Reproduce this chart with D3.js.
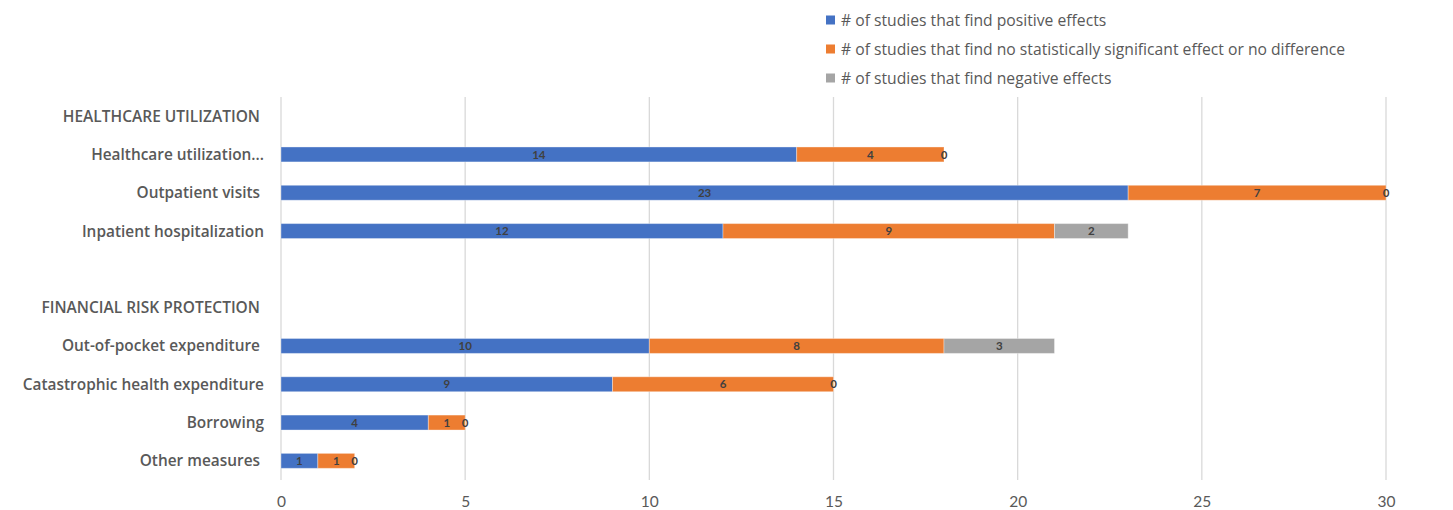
<!DOCTYPE html>
<html>
<head>
<meta charset="utf-8">
<script src="https://cdn.jsdelivr.net/npm/d3@7"></script>
<style>
  body { margin: 0; background: #fff; }
  svg { font-family: "Open Sans", Lato, sans-serif; }
</style>
</head>
<body>
<div id="chart"></div>
<script>
// rows, top to bottom (header rows and a blank spacer have no bars)
const rows = [
  'HEALTHCARE UTILIZATION',
  'Healthcare utilization...',
  'Outpatient visits ',
  'Inpatient hospitalization',
  '',
  'FINANCIAL RISK PROTECTION',
  'Out-of-pocket expenditure ',
  'Catastrophic health expenditure',
  'Borrowing',
  'Other measures '
];
const headerRows = ['HEALTHCARE UTILIZATION', 'FINANCIAL RISK PROTECTION'];

const seriesNames = [
  '# of studies that find positive effects',
  '# of studies that find no statistically significant effect or no difference',
  '# of studies that find negative effects'
];
const seriesColors = ['#4472c4', '#ed7d31', '#a5a5a5'];

// null = no bar on this row
const positive = [null, 14, 23, 12, null, null, 10, 9, 4, 1];
const noEffect = [null, 4, 7, 9, null, null, 8, 6, 1, 1];
const negative = [null, 0, 0, 2, null, null, 3, 0, 0, 0];

const xTicks = [0, 5, 10, 15, 20, 25, 30];

const width = 1453, height = 510;
const margin = { left: 281, right: 67, top: 97, bottom: 30 };

const svg = d3.select('#chart').append('svg')
  .attr('width', width)
  .attr('height', height);

const x = d3.scaleLinear()
  .domain([0, 30])
  .range([margin.left, width - margin.right]);

const y = d3.scaleBand()
  .domain(d3.range(rows.length))
  .range([margin.top, height - margin.bottom])
  .paddingInner(0.61)
  .paddingOuter(0.305);

// gridlines
svg.append('g')
  .selectAll('line')
  .data(xTicks)
  .join('line')
  .attr('x1', d => x(d)).attr('x2', d => x(d))
  .attr('y1', margin.top).attr('y2', height - margin.bottom)
  .attr('stroke', '#d9d9d9')
  .attr('stroke-width', 1.3);

// x tick labels
const xAxis = svg.append('g')
  .attr('transform', `translate(0,${height - margin.bottom})`)
  .call(d3.axisBottom(x).tickValues(xTicks).tickSize(0).tickPadding(16));
xAxis.select('.domain').remove();
xAxis.selectAll('text')
  .attr('fill', '#595959')
  .style('font-family', 'Lato, sans-serif')
  .style('font-size', '15.5px');

// stack data
const table = rows.map((r, i) => ({
  row: i,
  vals: [positive[i], noEffect[i], negative[i]]
})).filter(d => d.vals[0] !== null);

const stackKeys = [0, 1, 2];
const stacked = d3.stack()
  .keys(stackKeys)
  .value((d, k) => d.vals[k])(table);

const segGroups = svg.append('g')
  .selectAll('g')
  .data(stacked)
  .join('g')
  .attr('fill', d => seriesColors[d.key]);

segGroups.selectAll('rect')
  .data(d => d)
  .join('rect')
  .attr('x', d => x(d[0]))
  .attr('y', d => y(d.data.row))
  .attr('width', d => x(d[1]) - x(d[0]))
  .attr('height', y.bandwidth())
  .attr('stroke', 'rgba(255,255,255,0.35)')
  .attr('stroke-width', 1);

// data labels
segGroups.selectAll('text')
  .data(d => d)
  .join('text')
  .attr('x', d => (x(d[0]) + x(d[1])) / 2)
  .attr('y', d => y(d.data.row) + y.bandwidth() / 2)
  .attr('dy', '0.36em')
  .attr('text-anchor', 'middle')
  .attr('fill', '#404040')
  .style('font-family', 'Lato, sans-serif')
  .style('font-size', '11.5px')
  .style('font-weight', 'bold')
  .text(d => d[1] - d[0]);

// category labels
svg.append('g')
  .selectAll('text')
  .data(rows)
  .join('text')
  .attr('x', 264)
  .attr('y', (d, i) => y(i) + y.bandwidth() / 2)
  .attr('dy', '0.36em')
  .attr('text-anchor', 'end')
  .attr('fill', '#595959')
  .style('font-size', d => headerRows.includes(d) ? '15.5px' : '15.4px')
  .style('font-weight', '600')
  .style('white-space', 'pre')
  .text(d => headerRows.includes(d) ? d + ' ' : d);

// legend
const legend = svg.append('g')
  .selectAll('g')
  .data(seriesNames)
  .join('g')
  .attr('transform', (d, i) => `translate(826,${20 + i * 29})`);

legend.append('rect')
  .attr('x', 0).attr('y', -4.5)
  .attr('width', 9).attr('height', 9)
  .attr('fill', (d, i) => seriesColors[i]);

legend.append('text')
  .attr('x', 15)
  .attr('dy', '0.36em')
  .attr('fill', '#595959')
  .style('font-size', '15.7px')
  .text(d => d);
</script>
</body>
</html>
